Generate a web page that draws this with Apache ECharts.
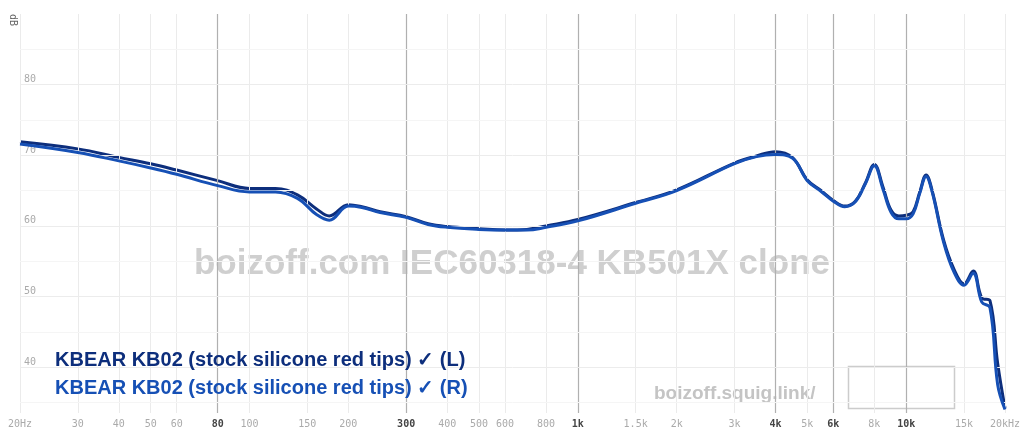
<!DOCTYPE html>
<html>
<head>
<meta charset="utf-8">
<script src="https://cdn.jsdelivr.net/npm/echarts@6/dist/echarts.min.js"></script>
<style>html,body{margin:0;padding:0;background:#fff}#chart{width:1024px;height:443px}</style>
</head>
<body>
<div id="chart"></div>
<script>
var freqs = [20, 30, 40, 50, 60, 80, 100, 120, 140, 160, 175, 200, 220, 250, 300, 350, 400, 500, 600, 700, 800, 1000, 1500, 2000, 3000, 3500, 4000, 4500, 5000, 5500, 6000, 6500, 7000, 7500, 8000, 8500, 9000, 9500, 10000, 10500, 11000, 11500, 12000, 13000, 14000, 15000, 16000, 17000, 18000, 19000, 20000];
var leftVals = [71.9, 70.9, 69.7, 68.8, 67.9, 66.4, 65.3, 65.3, 64.4, 62.4, 61.4, 63.0, 62.7, 62.0, 61.3, 60.3, 59.9, 59.6, 59.4, 59.5, 60.0, 60.9, 63.3, 65.1, 68.9, 69.9, 70.5, 69.7, 66.5, 65.0, 63.6, 62.8, 63.5, 66.0, 68.7, 65.5, 62.2, 61.4, 61.5, 62.0, 64.8, 67.2, 65.0, 58.0, 53.8, 51.8, 53.6, 49.8, 49.4, 40.5, 34.2];
var rightVals = [71.6, 70.4, 69.2, 68.2, 67.3, 65.7, 64.8, 64.8, 63.9, 61.6, 60.8, 62.8, 62.6, 61.9, 61.2, 60.2, 59.8, 59.5, 59.4, 59.4, 59.8, 60.7, 63.2, 65.0, 68.8, 69.8, 70.1, 69.6, 66.4, 64.9, 63.5, 62.7, 63.4, 65.9, 68.5, 65.2, 61.9, 61.0, 61.0, 61.7, 64.6, 67.0, 64.8, 57.7, 53.4, 51.6, 53.3, 49.2, 48.4, 37.5, 34.0];
var freqTicks = [20, 30, 40, 50, 60, 80, 100, 150, 200, 300, 400, 500, 600, 800, 1000, 1500, 2000, 3000, 4000, 5000, 6000, 8000, 10000, 15000, 20000];
var freqLabels = ['20Hz', '30', '40', '50', '60', '80', '100', '150', '200', '300', '400', '500', '600', '800', '1k', '1.5k', '2k', '3k', '4k', '5k', '6k', '8k', '10k', '15k', '20kHz'];
var majorTicks = [80, 300, 1000, 4000, 6000, 10000];
var dbLines = [35, 40, 45, 50, 55, 60, 65, 70, 75, 80, 85];

var chart = echarts.init(document.getElementById('chart'));

function pairs(vals) {
    return freqs.map(function (f, i) { return [f, vals[i]]; });
}

var vLines = freqTicks.map(function (f, i) {
    var major = majorTicks.indexOf(f) >= 0;
    return [
        {coord: [f, 33.5], label: {formatter: freqLabels[i], color: major ? '#444' : '#aaa', fontWeight: major ? 'bold' : 'normal'},
         lineStyle: {color: major ? '#b0b0b0' : '#ebebeb', width: major ? 1.2 : 1}},
        {coord: [f, 90]}
    ];
});
var hLines = dbLines.map(function (d) {
    return [
        {coord: [20, d], label: {formatter: d % 10 === 0 ? String(d) : ''},
         lineStyle: {color: d % 10 === 0 ? '#ececec' : '#f5f5f5'}},
        {coord: [20000, d]}
    ];
});

chart.setOption({
    animation: false,
    grid: {left: 20, right: 19, top: 14, bottom: 30},
    xAxis: {
        type: 'log', logBase: 10, min: 20, max: 20000,
        axisLine: {show: false}, axisTick: {show: false}, axisLabel: {show: false}, splitLine: {show: false}
    },
    yAxis: {
        type: 'value', min: 33.5, max: 90,
        axisLine: {show: false}, axisTick: {show: false}, axisLabel: {show: false}, splitLine: {show: false}
    },
    graphic: [
        {type: 'text', left: 8, top: 14, rotation: -Math.PI / 2, style: {text: 'dB', fill: '#666', font: '10px "DejaVu Sans Mono"'}},
        {type: 'text', left: 'center', top: 247, z: 1, style: {text: 'boizoff.com IEC60318-4 KB501X clone', fill: '#cfcfcf', font: 'bold 35px "Liberation Sans"'}},
        {type: 'text', left: 654, top: 384, z: 1, style: {text: 'boizoff.squig.link/', fill: '#c4c4c4', font: 'bold 19px "Liberation Sans"'}},
        {type: 'rect', left: 846, top: 364, z: 1, shape: {width: 106, height: 42}, style: {fill: 'none', stroke: '#ccc', lineWidth: 1.5}},
        {type: 'text', left: 55, top: 350, z: 10, style: {text: 'KBEAR KB02 (stock silicone red tips) ✓ (L)', fill: '#0d2e7c', font: 'bold 20px "Liberation Sans"'}},
        {type: 'text', left: 55, top: 378, z: 10, style: {text: 'KBEAR KB02 (stock silicone red tips) ✓ (R)', fill: '#1650b5', font: 'bold 20px "Liberation Sans"'}}
    ],
    series: [
        {
            type: 'line', data: [], silent: true,
            markLine: {
                silent: true, symbol: 'none', animation: false,
                label: {position: 'start', distance: 6, fontSize: 10, fontFamily: 'DejaVu Sans Mono'},
                lineStyle: {type: 'solid', color: '#ebebeb', width: 1},
                data: vLines
            }
        },
        {
            type: 'line', data: [], silent: true,
            markLine: {
                silent: true, symbol: 'none', animation: false,
                label: {position: 'insideStartTop', distance: [4, 0], fontSize: 10, color: '#aaa', fontFamily: 'DejaVu Sans Mono'},
                lineStyle: {type: 'solid', color: '#f0f0f0', width: 1},
                data: hLines
            }
        },
        {name: 'R', type: 'line', smooth: 0.4, showSymbol: false, data: pairs(rightVals), lineStyle: {color: '#1650b5', width: 3}, z: 5},
        {name: 'L', type: 'line', smooth: 0.4, showSymbol: false, data: pairs(leftVals), lineStyle: {color: '#0d2e7c', width: 3}, z: 4}
    ]
});
</script>
</body>
</html>
